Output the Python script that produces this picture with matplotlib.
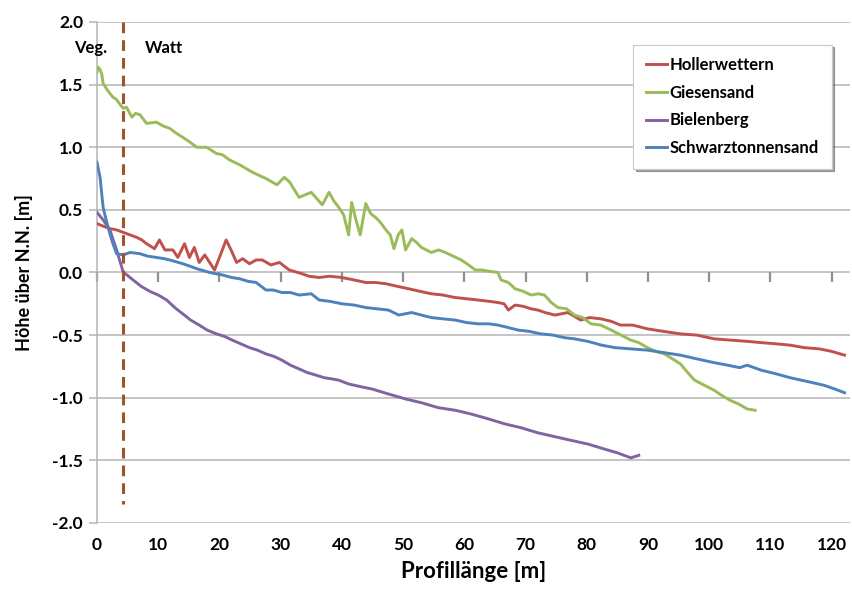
import numpy as np
import matplotlib
matplotlib.use('Agg')
import matplotlib.pyplot as plt
from matplotlib.markers import TICKDOWN

plt.rcParams['font.family'] = ['Lato', 'DejaVu Sans']

# Profil-Daten
holler_x = [0, 1, 2.1, 3.2, 4.3, 5.4, 6.5, 7.3, 8.1, 9.4, 10.2, 11.1, 12.4, 13.2, 14.3, 15.1, 15.9, 16.7,
            17.6, 18.4, 19.2, 20, 21.1, 21.9, 22.8, 23.8, 24.9, 26, 27, 28.4, 29.8, 31.4, 33.5, 34.6,
            36.3, 38, 40, 42, 43.9, 45.5, 47.2, 49, 50.9, 52.7, 54.6, 56.5, 58.5, 60.4, 62.3, 64, 65.5,
            66.5, 67.2, 68.3, 69.6, 70.9, 72, 73.2, 74.8, 76.9, 78, 79, 80.5, 82.3, 84, 85.5, 87.5, 89.9,
            92.5, 95.3, 98, 100.8, 103.5, 106.2, 108.5, 111, 113.2, 115.5, 118, 120, 122.1]
holler_y = [0.39, 0.37, 0.35, 0.34, 0.32, 0.3, 0.28, 0.26, 0.23, 0.19, 0.26, 0.18, 0.18, 0.12, 0.23, 0.12,
            0.2, 0.08, 0.14, 0.08, 0.02, 0.12, 0.26, 0.18, 0.08, 0.11, 0.07, 0.1, 0.1, 0.06, 0.08, 0.02,
            -0.01, -0.03, -0.04, -0.03, -0.04, -0.06, -0.08, -0.08, -0.09, -0.11, -0.13, -0.15, -0.17,
            -0.18, -0.2, -0.21, -0.22, -0.23, -0.24, -0.25, -0.3, -0.26, -0.27, -0.29, -0.3, -0.32, -0.34,
            -0.32, -0.35, -0.38, -0.36, -0.37, -0.39, -0.42, -0.42, -0.45, -0.47, -0.49, -0.5, -0.53,
            -0.54, -0.55, -0.56, -0.57, -0.58, -0.6, -0.61, -0.63, -0.66]

gies_x = [0, 0.2, 0.5, 0.8, 1.0, 1.5, 2.1, 2.6, 3.2, 3.8, 4.3, 4.8, 5.7, 6.3, 7, 8.1, 9.7, 10.8, 11.9,
          13, 14, 15.2, 16.3, 17.9, 19.5, 20.5, 21.6, 23.3, 25.4, 27.6, 29.4, 30.6, 31.5, 33, 35, 36.8,
          37.9, 38.7, 39.5, 40.3, 41.1, 41.6, 42.3, 43, 43.9, 44.7, 45.5, 46.3, 47.2, 47.9, 48.5, 49.2,
          49.8, 50.4, 51.4, 52.2, 53, 54.6, 55.8, 56.9, 58.2, 59.5, 60.7, 61.8, 62.8, 64, 65.5, 66,
          67.2, 68.3, 69.6, 70.9, 72, 73.1, 74.2, 75.3, 76.7, 78, 79.3, 80.7, 82.3, 84, 85.6, 87.2,
          88.5, 89.9, 91.3, 92.7, 94, 95.3, 96.5, 97.6, 99.2, 100.8, 102, 103.4, 104.8, 106.2, 107.5]
gies_y = [1.6, 1.64, 1.62, 1.58, 1.51, 1.47, 1.43, 1.4, 1.38, 1.34, 1.31, 1.32, 1.24, 1.27, 1.26, 1.19,
          1.2, 1.17, 1.15, 1.11, 1.08, 1.04, 1.0, 1.0, 0.95, 0.94, 0.9, 0.86, 0.8, 0.75, 0.7, 0.76, 0.72,
          0.6, 0.64, 0.54, 0.64, 0.57, 0.52, 0.46, 0.3, 0.56, 0.42, 0.3, 0.55, 0.47, 0.44, 0.4, 0.34,
          0.3, 0.19, 0.3, 0.34, 0.18, 0.27, 0.24, 0.2, 0.16, 0.18, 0.16, 0.13, 0.1, 0.06, 0.02, 0.02,
          0.01, 0.0, -0.06, -0.08, -0.13, -0.15, -0.18, -0.17, -0.18, -0.24, -0.28, -0.29, -0.34, -0.36,
          -0.41, -0.42, -0.46, -0.5, -0.54, -0.56, -0.6, -0.63, -0.65, -0.69, -0.73, -0.8, -0.86, -0.9,
          -0.94, -0.98, -1.02, -1.05, -1.09, -1.1]

biel_x = [0, 1, 2.1, 3.2, 4.3, 4.9, 5.9, 7.2, 8.6, 10, 11.4, 12.7, 14, 15.3, 16.7, 18, 19.5, 20.8, 22.1,
          23.5, 24.9, 26.2, 27.6, 28.9, 30.2, 31.6, 33, 34.4, 35.8, 37.1, 38.4, 39.5, 41.1, 42.9, 44.9,
          47.6, 50.4, 53, 55.8, 58.5, 61.1, 64, 66.7, 69.3, 72, 74.7, 77.4, 80.2, 82.9, 85, 87.2, 88.5]
biel_y = [0.48, 0.42, 0.34, 0.18, 0.0, -0.02, -0.06, -0.11, -0.15, -0.18, -0.22, -0.28, -0.33, -0.38,
          -0.42, -0.46, -0.49, -0.51, -0.54, -0.57, -0.6, -0.62, -0.65, -0.67, -0.7, -0.74, -0.77, -0.8,
          -0.82, -0.84, -0.85, -0.86, -0.89, -0.91, -0.93, -0.97, -1.01, -1.04, -1.08, -1.1, -1.13, -1.17,
          -1.21, -1.24, -1.28, -1.31, -1.34, -1.37, -1.41, -1.44, -1.48, -1.46]

schw_x = [0, 0.5, 1.0, 1.5, 2.1, 2.6, 3.2, 4.3, 5.4, 7, 8.3, 9.7, 11, 11.9, 14, 15.2, 16.3, 18.4, 20.5,
          22, 23.3, 24.6, 26, 27.6, 28.8, 30.2, 31.6, 33, 35, 36.3, 38, 40, 42, 43.9, 45.7, 47.6, 49.3,
          51.4, 53, 54.6, 56.5, 58.5, 60.4, 62.3, 64, 65.5, 67.2, 68.8, 70.6, 72.5, 74.5, 76.3, 78,
          80.2, 82.4, 84.6, 87.2, 89.9, 92.6, 95.3, 98, 100.8, 103, 105, 106.2, 108.5, 111, 113.2,
          116, 118.7, 120.5, 122.1]
schw_y = [0.88, 0.76, 0.52, 0.42, 0.31, 0.23, 0.15, 0.14, 0.16, 0.15, 0.13, 0.12, 0.11, 0.1, 0.07,
          0.05, 0.03, 0.0, -0.02, -0.04, -0.05, -0.07, -0.08, -0.14, -0.14, -0.16, -0.16, -0.18, -0.17,
          -0.22, -0.23, -0.25, -0.26, -0.28, -0.29, -0.3, -0.34, -0.32, -0.34, -0.36, -0.37, -0.38,
          -0.4, -0.41, -0.41, -0.42, -0.44, -0.46, -0.47, -0.49, -0.5, -0.52, -0.53, -0.55, -0.58,
          -0.6, -0.61, -0.62, -0.64, -0.66, -0.69, -0.72, -0.74, -0.76, -0.74, -0.78, -0.81, -0.84,
          -0.87, -0.9, -0.93, -0.96]

series = [
    ('Hollerwettern', holler_x, holler_y, '#C0504D'),
    ('Giesensand', gies_x, gies_y, '#9BBB59'),
    ('Bielenberg', biel_x, biel_y, '#8064A2'),
    ('Schwarztonnensand', schw_x, schw_y, '#4F81BD'),
]

x_ticks = np.arange(0, 121, 10)
y_ticks = np.arange(-2, 2.01, 0.5)

grenze_x = 4.2
grenze_y = [2.0, -1.85]

fig = plt.figure(figsize=(8.53, 5.91), dpi=100)
ax = fig.add_axes([0.1137, 0.1151, 0.8828, 0.8477])

ax.set_xlim(0, 123)
ax.set_ylim(-2, 2)
ax.set_yticks(y_ticks)
ax.set_yticklabels(['%.1f' % v for v in y_ticks])
ax.set_xticks(x_ticks)
ax.yaxis.grid(True, color='#b4b4b4', lw=1.1)
ax.set_axisbelow(True)
for s in ['top', 'right', 'bottom']:
    ax.spines[s].set_visible(False)
ax.spines['left'].set_color('#b4b4b4')
ax.spines['left'].set_linewidth(1.1)
ax.tick_params(axis='y', length=6, width=1.1, color='#b4b4b4', labelsize=12.5, pad=4)
ax.tick_params(axis='x', length=0, labelsize=12.5, pad=10)
for lab in ax.get_xticklabels() + ax.get_yticklabels():
    lab.set_fontweight('bold')

# Teilstriche der Rubrikenachse bei 0 m
ax.plot(x_ticks, np.zeros(len(x_ticks)), ls='none', marker=TICKDOWN, ms=7, mew=1.6,
        mec='#909090', mfc='#909090', clip_on=False, zorder=2)

lines = []
for name, xs, ys, col in series:
    ln, = ax.plot(xs, ys, color=col, lw=2.1, label=name, zorder=3)
    lines.append(ln)

ax.plot([grenze_x, grenze_x], grenze_y, color='#A5502A', lw=2.2, ls=(0, (3.5, 2.3)), zorder=4)

ax.set_xlabel('Profillänge [m]', fontsize=16, fontweight='bold', labelpad=6)
ax.set_ylabel('Höhe über N.N. [m]', fontsize=13, fontweight='bold', labelpad=14)

ax.text(-1.0, 1.79, 'Veg.', fontsize=12, fontweight='bold', ha='center', va='center', clip_on=False)
ax.text(11.0, 1.79, 'Watt', fontsize=12, fontweight='bold', ha='center', va='center')

leg = ax.legend(handles=lines, loc='upper left', bbox_to_anchor=(0.712, 0.955),
                fontsize=12, frameon=True, fancybox=False, shadow=True, handlelength=1.3,
                handletextpad=0.15, labelspacing=0.7, borderpad=0.75, borderaxespad=0)
leg.get_frame().set_edgecolor('#c8c8c8')
leg.get_frame().set_linewidth(0.8)
for t in leg.get_texts():
    t.set_fontweight('bold')

fig.savefig('out.png', dpi=100)
